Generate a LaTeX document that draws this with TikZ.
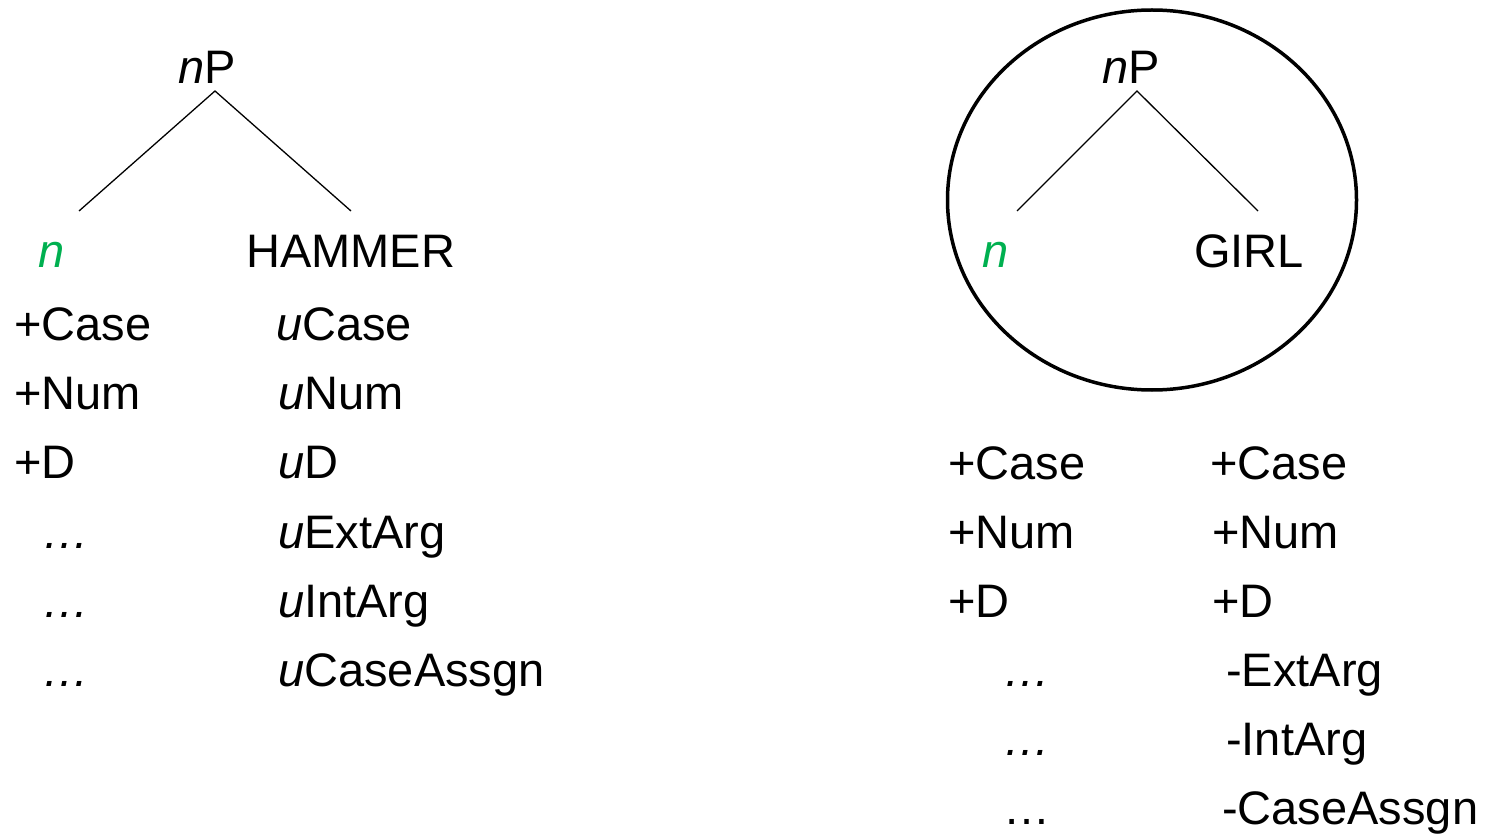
\documentclass[tikz,border=0pt]{standalone}
\usepackage{fontspec}
\setmainfont{Liberation Sans}
\usetikzlibrary{shapes.geometric}
\definecolor{ngreen}{RGB}{0,176,80}
\tikzset{
  lbl/.style={anchor=base west, inner sep=0pt, font=\fontsize{47}{56}\selectfont},
  branch/.style={line width=1.3pt},
  ring/.style={line width=3.5pt}
}
\begin{document}
\begin{tikzpicture}[x=1pt,y=-1pt]
\useasboundingbox (0,0) rectangle (1485,834);
% left tree
\node[lbl] (np1) at (178,84) {\textit{n}P};
\coordinate (top1) at (215,91);
\coordinate (l1) at (79,211);
\coordinate (r1) at (351,211);
\draw[branch] (l1) -- (top1) -- (r1);
\node[lbl, text=ngreen] (n1) at (38,268) {\textit{n}};
\node[lbl] (hammer) at (246,268) {HAMMER};
\node[lbl] (a1) at (14,340) {+Case};
\node[lbl] (a2) at (14,409) {+Num};
\node[lbl] (a3) at (14,478) {+D};
\node[lbl] (a4) at (42,548) {\textit{…}};
\node[lbl] (a5) at (42,617) {\textit{…}};
\node[lbl] (a6) at (42,686) {\textit{…}};
\node[lbl] (b1) at (276,340) {\textit{u}Case};
\node[lbl] (b2) at (278,409) {\textit{u}Num};
\node[lbl] (b3) at (278,478) {\textit{u}D};
\node[lbl] (b4) at (278,548) {\textit{u}ExtArg};
\node[lbl] (b5) at (278,617) {\textit{u}IntArg};
\node[lbl] (b6) at (278,686) {\textit{u}CaseAssgn};
% right tree
\node[ring, draw, ellipse, minimum width=409pt, minimum height=380pt, inner sep=0pt] (circ) at (1152,200) {};
\node[lbl] (np2) at (1102,84) {\textit{n}P};
\coordinate (top2) at (1137,91);
\coordinate (l2) at (1017,211);
\coordinate (r2) at (1258,211);
\draw[branch] (l2) -- (top2) -- (r2);
\node[lbl, text=ngreen] (n2) at (982,268) {\textit{n}};
\node[lbl] (girl) at (1194,268) {GIRL};
\node[lbl] (c1) at (948,479) {+Case};
\node[lbl] (c2) at (948,548) {+Num};
\node[lbl] (c3) at (948,617) {+D};
\node[lbl] (c4) at (1003,686) {\textit{…}};
\node[lbl] (c5) at (1003,755) {\textit{…}};
\node[lbl] (c6) at (1003,824) {…};
\node[lbl] (d1) at (1210,479) {+Case};
\node[lbl] (d2) at (1212,548) {+Num};
\node[lbl] (d3) at (1212,617) {+D};
\node[lbl] (d4) at (1226,686) {-ExtArg};
\node[lbl] (d5) at (1226,755) {-IntArg};
\node[lbl] (d6) at (1222,824) {-CaseAssgn};
\end{tikzpicture}
\end{document}
